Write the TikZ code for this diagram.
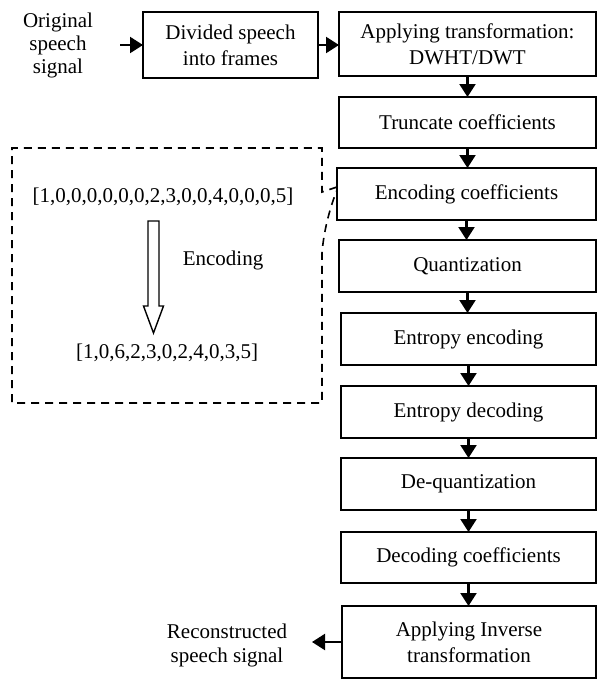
\documentclass[tikz,border=0pt]{standalone}
\usepackage{fontspec}
\setmainfont{Liberation Serif}
\usetikzlibrary{arrows.meta}
\begin{document}
\begin{tikzpicture}[x=1pt,y=-1pt,
  txt/.style={inner sep=0pt, outer sep=0pt, align=center, font=\fontsize{21}{26}\selectfont},
  box/.style={txt, draw, line width=2.1pt},
  arr/.style={line width=2.2pt, -{Triangle[length=13pt,width=16pt]}},
  callout/.style={line width=1.6pt, dash pattern=on 8pt off 6pt}]
\useasboundingbox (0,0) rectangle (597,680);
% boxes
\node[box, minimum width=175pt, minimum height=66pt] (div) at (230.5,45) {Divided speech\\into frames};
\node[box, minimum width=257pt, minimum height=64pt] (app) at (467.5,44) {Applying transformation:\\DWHT/DWT};
\node[box, minimum width=257pt, minimum height=51pt] (trunc) at (467.5,122.5) {Truncate coefficients};
\node[box, minimum width=259pt, minimum height=52pt] (enc) at (466.5,194) {Encoding coefficients};
\node[box, minimum width=257pt, minimum height=52pt] (quant) at (467.5,266) {Quantization};
\node[box, minimum width=255pt, minimum height=52pt] (ee) at (468.5,339) {Entropy encoding};
\node[box, minimum width=255pt, minimum height=52pt] (ed) at (468.5,412) {Entropy decoding};
\node[box, minimum width=255pt, minimum height=52pt] (dq) at (468.5,484) {De-quantization};
\node[box, minimum width=255pt, minimum height=51pt] (dc) at (468.5,557.5) {Decoding coefficients};
\node[box, minimum width=254pt, minimum height=72pt] (inv) at (469,642) {Applying Inverse\\transformation};
% side texts
\node[txt, font=\fontsize{21}{23}\selectfont] (orig) at (58,45) {Original\\speech\\signal};
\node[txt, font=\fontsize{21}{24}\selectfont] (rec) at (227,645) {Reconstructed\\speech signal};
\coordinate (in) at (120,45);
\coordinate (out) at (312,642);
% connectors
\draw[arr] (in) -- (div.west);
\draw[arr] (div.east) -- (div.east -| app.west);
\draw[arr] (app.south) -- (app.south |- trunc.north);
\draw[arr] (trunc.south) -- (trunc.south |- enc.north);
\draw[arr] (enc.south) -- (enc.south |- quant.north);
\draw[arr] (quant.south) -- (quant.south |- ee.north);
\draw[arr] (ee.south) -- (ee.south |- ed.north);
\draw[arr] (ed.south) -- (ed.south |- dq.north);
\draw[arr] (dq.south) -- (dq.south |- dc.north);
\draw[arr] (dc.south) -- (dc.south |- inv.north);
\draw[arr] (inv.west) -- (out);
% callout
\node[txt] (l1) at (163,197) {[1,0,0,0,0,0,0,2,3,0,0,4,0,0,0,5]};
\node[txt] (l2) at (167,353) {[1,0,6,2,3,0,2,4,0,3,5]};
\node[txt] (elab) at (223,260) {Encoding};
\draw[line width=1.4pt, line join=miter] (148,221) -- (159,221) -- (159,306) -- (163.5,306) -- (153.5,333) -- (143.5,306) -- (148,306) -- cycle;
\draw[callout] (enc.west |- 0,187) -- (322,192) -- (322,148) -- (12,148) -- (12,403) -- (322,403) -- (322,253) .. controls (324,228) and (331,205) .. (enc.west |- 0,190);
\end{tikzpicture}
\end{document}
